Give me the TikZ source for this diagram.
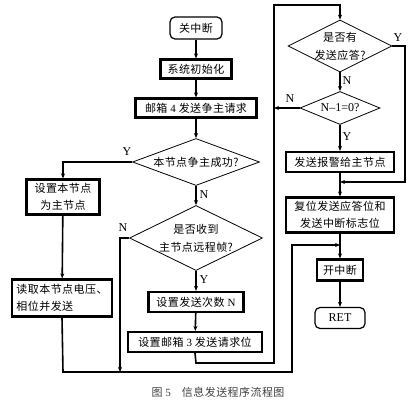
\documentclass[tikz,border=0pt]{standalone}
\usepackage{fontspec}
\setmainfont{Liberation Serif}
\newfontfamily\cjk[LetterSpace=4]{Noto Sans CJK SC}
\usetikzlibrary{shapes.geometric,arrows.meta}
\newcommand\latn[1]{{\rmfamily #1}}
\begin{document}
\begin{tikzpicture}[x=1pt,y=-1pt,
  box/.style={draw, line width=2.2pt, inner sep=0pt, align=center,
    font=\cjk\fontsize{11}{17}\selectfont},
  rbox/.style={draw, line width=1.2pt, rounded corners=5pt, inner sep=0pt, align=center},
  dia/.style={draw, diamond, line width=0.8pt, inner sep=0pt},
  dtext/.style={align=center, font=\cjk\fontsize{11}{18}\selectfont},
  ln/.style={line width=1.6pt},
  arr/.style={line width=1.6pt, -{Stealth[length=5pt,width=4pt]}},
  lbl/.style={font=\fontsize{12}{12}\selectfont, inner sep=0pt}]
\useasboundingbox (0,0) rectangle (418,401);

% left/middle column
\node[rbox, minimum width=52pt, minimum height=22pt, font=\cjk\fontsize{11}{12}\selectfont] (n1) at (196,28) {关中断};
\node[box, minimum width=71pt, minimum height=19pt] (n2) at (196,69) {系统初始化};
\node[box, minimum width=121pt, minimum height=19pt] (n3) at (196,108) {邮箱 \latn{4} 发送争主请求};
\node[dia, minimum width=127pt, minimum height=47pt] (d1) at (196,162) {};
\node[dtext] (t1) at (d1) {本节点争主成功?};
\node[box, minimum width=73pt, minimum height=35pt] (bs) at (63,197) {设置本节点\\为主节点};
\node[box, minimum width=100pt, minimum height=37pt, align=left] (br) at (62,298) {读取本节点电压、\\相位并发送};
\node[dia, minimum width=133pt, minimum height=65pt] (d2) at (196,238) {};
\node[dtext] (t2) at (d2) {是否收到\\主节点远程帧?};
\node[box, minimum width=95pt, minimum height=20pt] (bn) at (196,302) {设置发送次数 \latn{N}};
\node[box, minimum width=134pt, minimum height=20pt] (bm) at (195,342) {设置邮箱 \latn{3} 发送请求位};

% right column
\node[dia, minimum width=104pt, minimum height=52pt] (d3) at (340,46) {};
\node[dtext] (t3) at (d3) {是否有\\发送应答?};
\node[dia, minimum width=80pt, minimum height=33pt] (d4) at (340,108) {};
\node[font=\fontsize{12}{12}\selectfont] (t4) at (d4) {N--1=0?};
\node[box, minimum width=108pt, minimum height=20pt] (ba) at (340,162) {发送报警给主节点};
\node[box, minimum width=108pt, minimum height=35pt] (bc) at (340,215) {复位发送应答位和\\发送中断标志位};
\node[box, minimum width=46pt, minimum height=21pt] (bk) at (340,270) {开中断};
\node[rbox, minimum width=50pt, minimum height=21pt, font=\fontsize{12}{12}\selectfont] (ret) at (340,318) {RET};

% coordinates
\coordinate (c1) at (120,238);
\coordinate (c2) at (120,372);
\coordinate (c3) at (63,372);
\coordinate (c4) at (292,372);
\coordinate (c5) at (292,245);
\coordinate (c6) at (340,245);
\coordinate (c7) at (196,363);
\coordinate (c8) at (274,363);
\coordinate (c9) at (274,5);
\coordinate (c10) at (340,5);
\coordinate (c11) at (405,46);
\coordinate (c12) at (405,182);
\coordinate (c13) at (340,182);
\coordinate (c14) at (274,108);

% connectors
\draw[arr] (n1) -- (n2);
\draw[arr] (n2) -- (n3);
\draw[arr] (n3) -- (d1.north);
\draw[arr] (d1.west) -| (bs.north);
\draw[arr] (bs) -- (br);
\draw[arr] (d1.south) -- (d2.north);
\draw[arr] (d2.south) -- (bn);
\draw[arr] (bn) -- (bm);
\draw[arr] (d2.west) -- (c1) -- (c2);
\draw[arr] (br.south) -- (c3) -- (c4) -- (c5) -- (c6);
\draw[arr] (bm.south) -- (c7) -- (c8) -- (c9) -- (c10) -- (d3.north);
\draw[arr] (d3.east) -- (c11) -- (c12) -- (c13);
\draw[arr] (d3.south) -- (d4.north);
\draw[arr] (d4.west) -- (c14);
\draw[arr] (d4.south) -- (ba);
\draw[arr] (ba) -- (bc);
\draw[arr] (bc) -- (bk);
\draw[arr] (bk) -- (ret);

% labels
\node[lbl] (y1) at (127,152) {Y};
\node[lbl] (nn1) at (204,195) {N};
\node[lbl] (nn2) at (123,228) {N};
\node[lbl] (y2) at (204,280) {Y};
\node[lbl] (y3) at (398,38) {Y};
\node[lbl] (nn3) at (347,81) {N};
\node[lbl] (nn4) at (290,99) {N};
\node[lbl] (y4) at (347,137) {Y};

% caption
\node[font=\cjk\fontsize{11}{12}\selectfont, text=black!75] (cap) at (218,392) {图 \latn{5}\quad 信息发送程序流程图};
\end{tikzpicture}
\end{document}
